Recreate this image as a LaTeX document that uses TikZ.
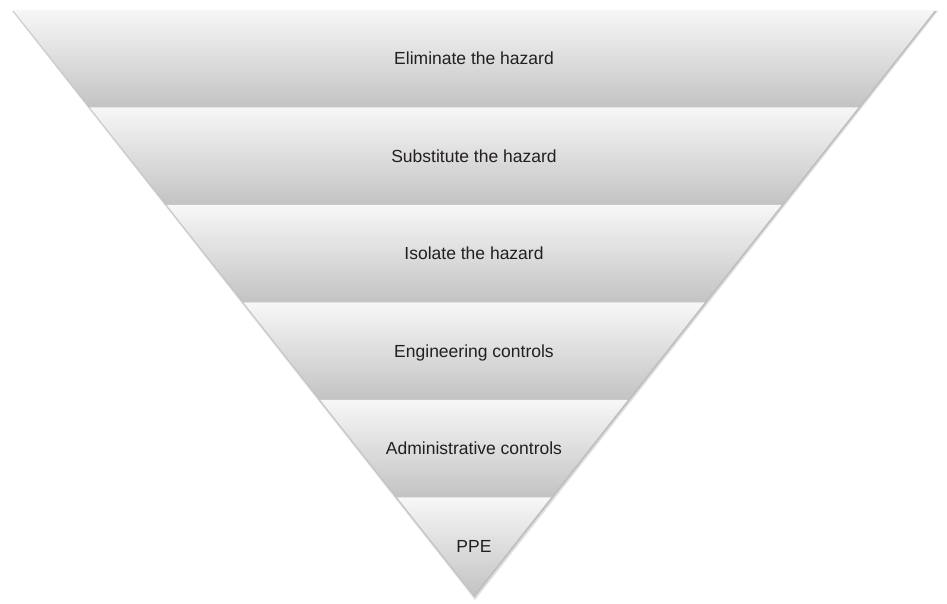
\documentclass[tikz,border=0pt]{standalone}
\usepackage{fontspec}
\setmainfont{Liberation Sans}
\usetikzlibrary{calc}
\definecolor{bandtop}{RGB}{247,247,247}
\definecolor{bandmid}{RGB}{228,228,228}
\definecolor{bandbot}{RGB}{195,195,195}
\definecolor{labeltext}{RGB}{35,31,32}

\begin{document}
\begin{tikzpicture}[x=1pt,y=1pt,
  band/.style={top color=bandtop,middle color=bandmid,bottom color=bandbot},
  lbl/.style={font=\fontsize{17.5}{21}\selectfont,text=labeltext,
    text height=0.72em,text depth=0.2em,inner sep=0pt}]
\useasboundingbox (0,0) rectangle (947,603);
\coordinate (tl) at (13,593);
\coordinate (tr) at (935,593);
\coordinate (ap) at (474,8);
% soft shadow round the funnel
\fill[black!12] ($(tl)+(-1,-1)$) -- ($(tr)+(3,-1)$) -- ($(ap)+(1,-5)$) -- cycle;
\fill[black!25] ($(tl)+(0,-1)$) -- ($(tr)+(1.5,-1)$) -- ($(ap)+(0.5,-2.5)$) -- cycle;
% six bands
\foreach \i [evaluate=\i as \j using \i+1] in {0,...,5}
  \shade[band] ($(tl)!\i/6!(ap)$) -- ($(tr)!\i/6!(ap)$) -- ($(tr)!\j/6!(ap)$)
    -- ($(tl)!\j/6!(ap)$) -- cycle;
\node[lbl] (elim)  at (474,540.75) {Eliminate the hazard};
\node[lbl] (subst) at (474,443.25) {Substitute the hazard};
\node[lbl] (isol)  at (474,345.75) {Isolate the hazard};
\node[lbl] (eng)   at (474,248.25) {Engineering controls};
\node[lbl] (admin) at (474,150.75) {Administrative controls};
\node[lbl] (ppe)   at (474,53.25)  {PPE};
\end{tikzpicture}
\end{document}
